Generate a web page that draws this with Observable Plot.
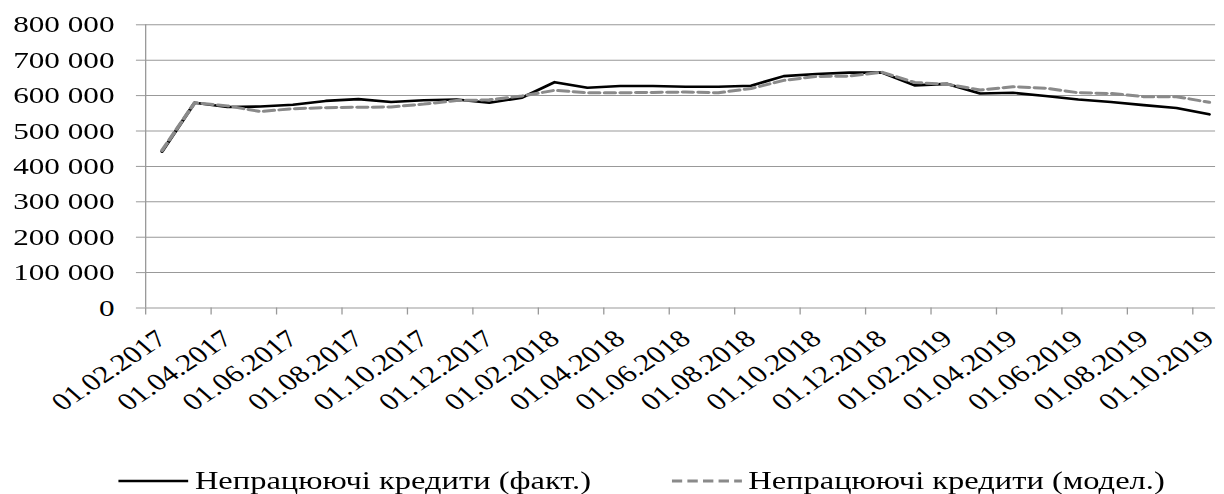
<!DOCTYPE html>
<html><head><meta charset="utf-8">
<script src="https://cdn.jsdelivr.net/npm/d3@7"></script>
<script src="https://cdn.jsdelivr.net/npm/@observablehq/plot@0.6"></script>
<style>
html,body{margin:0;padding:0;background:#fff;overflow:hidden;}
#wrap{width:942px;transform:scaleX(1.2994);transform-origin:0 0;font-family:"Liberation Serif",serif;}
#wrap svg, #wrap svg text{font-family:"Liberation Serif",serif !important;}
.legend{display:flex;align-items:center;height:30px;margin-top:26px;padding-left:91px;font-size:25px;color:#000;white-space:nowrap;}
.legend svg{display:block;margin-right:5px;}
</style></head><body>
<div id="wrap"><div id="chart"></div><div class="legend" id="legend"></div></div>
<script>
const dates = ["01.02.2017","01.03.2017","01.04.2017","01.05.2017","01.06.2017","01.07.2017","01.08.2017","01.09.2017","01.10.2017","01.11.2017","01.12.2017",
  "01.01.2018","01.02.2018","01.03.2018","01.04.2018","01.05.2018","01.06.2018","01.07.2018","01.08.2018","01.09.2018","01.10.2018","01.11.2018","01.12.2018",
  "01.01.2019","01.02.2019","01.03.2019","01.04.2019","01.05.2019","01.06.2019","01.07.2019","01.08.2019","01.09.2019","01.10.2019"];
const fact = [442000,580000,568000,569000,574000,585000,590000,582000,587000,589000,580000,594000,638000,622000,627000,627000,625000,625000,628000,655000,661000,665000,665000,629000,633000,606000,608000,599000,589000,582000,573000,565000,547000];
const model = [445000,580000,571000,555000,563000,566000,567000,568000,576000,586000,588000,599000,615000,608000,608000,609000,610000,608000,620000,643000,654000,655000,666000,637000,632000,616000,625000,621000,608000,606000,597000,597000,581000];
const seriesNames = ["Непрацюючі кредити (факт.)","Непрацюючі кредити (модел.)"];
const yTicks = [0,100000,200000,300000,400000,500000,600000,700000,800000];

const idx = dates.map((d,i)=>i);
const labelIdx = idx.filter(i => i % 2 === 0);
const tickMarks = labelIdx.map(i => i - 0.5);
const fmt = v => d3.format(",")(v).replace(/,/g, "\u00a0");
const gray = "#999";
const seriesStyle = [
  {stroke:"#000", strokeWidth:2.6, dash:null},
  {stroke:"#8a8a8a", strokeWidth:3, dash:"8,4"}
];

const W = 942, H = 440;
const chart = Plot.plot({
  width: W, height: H,
  marginLeft: 111.6, marginRight: 6.9, marginTop: 24.3, marginBottom: H - 307.5,
  style: {fontFamily: "Liberation Serif", fontSize: "24px", color: "#000", background: "#fff", overflow: "visible"},
  x: {type: "linear", domain: [-0.5, 32.2], axis: null},
  y: {domain: [0, 800000], axis: null},
  marks: [
    Plot.gridY(yTicks, {stroke: gray, strokeOpacity: 1}),
    Plot.ruleX([-0.5], {y1: 0, y2: 800000, stroke: gray}),
    Plot.axisY(yTicks, {tickSize: 7, tickPadding: 17, tickFormat: fmt, stroke: gray, fill: "#000"}),
    Plot.axisX(tickMarks, {tickSize: 7, tickFormat: () => "", stroke: gray}),
    Plot.axisX(labelIdx, {tickSize: 0, tickPadding: 27, tickRotate: -41, tickFormat: i => dates[i], fill: "#000"}),
    Plot.line(fact, {x: (d,i) => i, y: d => d, stroke: seriesStyle[0].stroke, strokeWidth: seriesStyle[0].strokeWidth, strokeLinejoin: "round"}),
    Plot.line(model, {x: (d,i) => i, y: d => d, stroke: seriesStyle[1].stroke, strokeWidth: seriesStyle[1].strokeWidth, strokeDasharray: seriesStyle[1].dash, strokeLinejoin: "round"})
  ]
});
document.getElementById("chart").appendChild(chart);

const legend = document.getElementById("legend");
const gaps = [0, 62];
seriesNames.forEach((name, k) => {
  const s = seriesStyle[k];
  const ns = "http://www.w3.org/2000/svg";
  const svg = document.createElementNS(ns, "svg");
  svg.setAttribute("width", 54); svg.setAttribute("height", 10);
  svg.style.marginLeft = gaps[k] + "px";
  const ln = document.createElementNS(ns, "line");
  ln.setAttribute("x1", 0); ln.setAttribute("x2", 54); ln.setAttribute("y1", 5); ln.setAttribute("y2", 5);
  ln.setAttribute("stroke", s.stroke); ln.setAttribute("stroke-width", s.strokeWidth);
  if (s.dash) ln.setAttribute("stroke-dasharray", s.dash);
  svg.appendChild(ln);
  legend.appendChild(svg);
  const span = document.createElement("span");
  span.textContent = name;
  legend.appendChild(span);
});
</script>
</body></html>
